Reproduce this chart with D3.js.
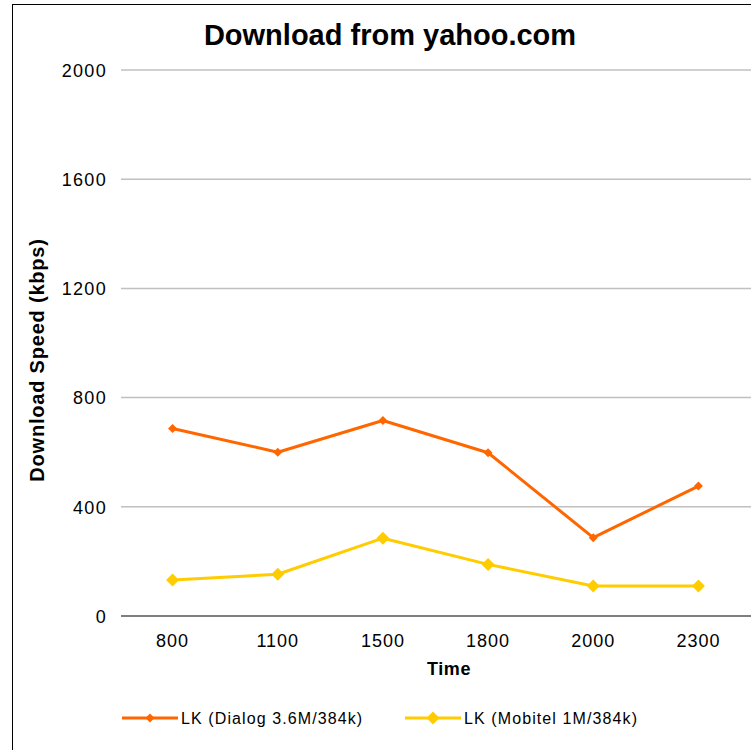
<!DOCTYPE html>
<html><head><meta charset="utf-8">
<script src="https://cdn.jsdelivr.net/npm/d3@7"></script>
<style>body{margin:0;background:#fff}svg{display:block}</style>
</head><body>
<script>
const categories = ["800","1100","1500","1800","2000","2300"];
const dialog = [687, 600, 716, 598, 287, 476];
const mobitel = [132, 153, 285, 189, 110, 110];
const yTicks = [0, 400, 800, 1200, 1600, 2000];
const seriesNames = ["LK (Dialog 3.6M/384k)", "LK (Mobitel 1M/384k)"];
const colors = ["#FF6600", "#FFCC00"];

const W = 751, H = 750;
const svg = d3.select("body").append("svg").attr("width", W).attr("height", H);
svg.append("rect").attr("x", 12.5).attr("y", 4.5).attr("width", 800).attr("height", 800)
  .attr("fill", "#fff").attr("stroke", "#000").attr("stroke-width", 1);

const x = d3.scaleBand().domain(categories).range([120, 751]);
const y = d3.scaleLinear().domain([0, 2000]).range([616, 70]);
const font = "Liberation Sans, Arial, sans-serif";

// gridlines
svg.append("g").selectAll("line").data(yTicks.filter(d => d > 0)).join("line")
  .attr("x1", 121).attr("x2", 751).attr("y1", d => y(d)).attr("y2", d => y(d))
  .attr("stroke", "#c0c0c0").attr("stroke-width", 1.5);

// y axis labels
const yAxis = d3.axisLeft(y).tickValues(yTicks).tickFormat(d3.format("d")).tickSize(0).tickPadding(0);
const yg = svg.append("g").attr("transform", "translate(107,0)").call(yAxis);
yg.select(".domain").remove();
yg.selectAll("text").attr("font-family", font).attr("font-size", 18).attr("letter-spacing", 1.3)
  .attr("fill", "#000").attr("dy", "0.35em");

// x axis
const xAxis = d3.axisBottom(x).tickSize(0).tickPadding(0);
const xg = svg.append("g").attr("transform", "translate(0,616)").call(xAxis);
xg.select(".domain").remove();
xg.selectAll("text").attr("font-family", font).attr("font-size", 18).attr("letter-spacing", 1)
  .attr("fill", "#000").attr("dy", "1.7em");
svg.append("line").attr("x1", 121).attr("x2", 751).attr("y1", 616).attr("y2", 616)
  .attr("stroke", "#000").attr("stroke-width", 1.2);

// titles
svg.append("text").attr("x", 390).attr("y", 45).attr("text-anchor", "middle")
  .attr("font-family", font).attr("font-weight", "bold").attr("font-size", 29).text("Download from yahoo.com");
svg.append("text").attr("x", 449).attr("y", 675).attr("text-anchor", "middle")
  .attr("font-family", font).attr("font-weight", "bold").attr("font-size", 18).attr("letter-spacing", 0.6).text("Time");
svg.append("text").attr("transform", "translate(44,360) rotate(-90)").attr("text-anchor", "middle")
  .attr("font-family", font).attr("font-weight", "bold").attr("font-size", 20).attr("letter-spacing", 0.8)
  .text("Download Speed (kbps)");

const cx = c => x(c) + x.bandwidth() / 2;
const line = d3.line().x((d, i) => cx(categories[i])).y(d => y(d));
const diamond = s => `M0,${-s}L${s},0L0,${s}L${-s},0Z`;
const series = [dialog, mobitel];
const msize = [4.5, 6.5];
series.forEach((vals, k) => {
  svg.append("path").datum(vals).attr("d", line).attr("fill", "none")
    .attr("stroke", colors[k]).attr("stroke-width", 3).attr("stroke-linejoin", "round");
  svg.append("g").selectAll("path").data(vals).join("path")
    .attr("transform", (d, i) => `translate(${cx(categories[i])},${y(d)})`)
    .attr("d", diamond(msize[k])).attr("fill", colors[k]);
});

// legend
const legX = [122, 405];
seriesNames.forEach((name, k) => {
  const g = svg.append("g").attr("transform", `translate(${legX[k]},718)`);
  g.append("line").attr("x1", 0).attr("x2", 56).attr("stroke", colors[k]).attr("stroke-width", 3);
  g.append("path").attr("transform", "translate(28,0)").attr("d", diamond(msize[k])).attr("fill", colors[k]);
  g.append("text").attr("x", 59).attr("dy", "0.35em").attr("font-family", font).attr("font-size", 16)
    .attr("letter-spacing", 1.1).text(name);
});
</script>
</body></html>
